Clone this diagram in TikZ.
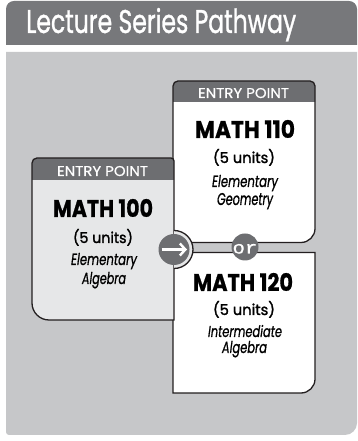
\documentclass[tikz,border=0pt]{standalone}
\usepackage{graphicx}
\usepackage{fontspec}
\setmainfont{Poppins}
\newfontfamily\titlefont{Poppins}[FakeBold=1.2]
\newfontfamily\medfont{Poppins}[FakeBold=1.6]
\newfontfamily\hdrfont{Poppins}[FakeBold=0.6]
\newfontfamily\itfont{Poppins}[FakeBold=1.0]
\newfontfamily\bfont{Poppins}[FakeBold=0.8]
\newfontfamily\orfont{Liberation Mono}[FakeBold=0.6]
\usetikzlibrary{arrows.meta}
\definecolor{titlegray}{HTML}{77787B}
\definecolor{panelgray}{HTML}{C6C7C9}
\definecolor{hdrgray}{HTML}{6D6E71}
\definecolor{boxlight}{HTML}{E6E7E8}
\definecolor{inkline}{HTML}{231F20}
\newcommand\fitbox[3]{\resizebox{#1pt}{#2pt}{#3}}
\tikzset{
  txt/.style={inner sep=0pt, anchor=base},
  outline/.style={draw=inkline, line width=1.3pt},
  hdrtxt/.style={txt, text=white},
  disc/.style={circle, fill=hdrgray, inner sep=0pt}
}
\begin{document}
\begin{tikzpicture}[x=1pt,y=1pt]
\useasboundingbox (0,0) rectangle (357,441);
% title bar
\fill[titlegray] (6,396) -- (6,432) arc[start angle=180,end angle=90,radius=8] -- (349,440) arc[start angle=90,end angle=0,radius=8] -- (357,396) -- cycle;
\node[txt, anchor=base west, text=white] (title) at (26,408) {\fitbox{270}{25}{\titlefont Lecture Series Pathway}};
% panel
\fill[panelgray] (6,389) -- (357,389) -- (357,18) arc[start angle=0,end angle=-90,radius=12] -- (9,6) arc[start angle=270,end angle=180,radius=3] -- cycle;
% box 110
\fill[white] (173,198.5) -- (173,355) arc[start angle=180,end angle=90,radius=5] -- (310,360) arc[start angle=90,end angle=0,radius=5] -- (315,212.5) arc[start angle=0,end angle=-90,radius=14] -- cycle;
\fill[hdrgray] (173,339) -- (173,355) arc[start angle=180,end angle=90,radius=5] -- (310,360) arc[start angle=90,end angle=0,radius=5] -- (315,339) -- cycle;
\draw[outline] (173,198.5) -- (173,355) arc[start angle=180,end angle=90,radius=5] -- (310,360) arc[start angle=90,end angle=0,radius=5] -- (315,212.5) arc[start angle=0,end angle=-90,radius=14] -- cycle;
% box 120
\fill[white] (173,188.5) -- (315,188.5) -- (315,62) arc[start angle=0,end angle=-90,radius=14] -- (173,48) -- cycle;
\draw[outline] (173,188.5) -- (315,188.5) -- (315,62) arc[start angle=0,end angle=-90,radius=14] -- (173,48) -- cycle;
% box 100
\fill[boxlight] (174,121) -- (174,280) arc[start angle=0,end angle=90,radius=3] -- (37,283) arc[start angle=90,end angle=180,radius=5] -- (32,138) arc[start angle=180,end angle=270,radius=17] -- cycle;
\fill[hdrgray] (32,261) -- (32,278) arc[start angle=180,end angle=90,radius=5] -- (171,283) arc[start angle=90,end angle=0,radius=3] -- (174,261) -- cycle;
\draw[outline] (174,121) -- (174,280) arc[start angle=0,end angle=90,radius=3] -- (37,283) arc[start angle=90,end angle=180,radius=5] -- (32,138) arc[start angle=180,end angle=270,radius=17] -- cycle;
% bulge around arrow
\fill[boxlight] (174,210.5) arc[start angle=90,end angle=-90,radius=19] -- cycle;
\draw[outline] (174,210.5) arc[start angle=90,end angle=-90,radius=19];
% arrow disc
\node[disc, minimum size=31pt] (arrowc) at (174,191.5) {};
\coordinate (arrS) at ([xshift=-12.5pt]arrowc.center);
\coordinate (arrE) at ([xshift=13pt]arrowc.center);
\draw[white, line width=2.6pt, -{Straight Barb[length=5.5pt,width=12pt,line width=2.4pt]}] (arrS) -- (arrE);
% or disc
\node[disc, minimum size=27pt] (ordisc) at (245,194) {};
\node[txt, text=white] (ortxt) at (245,187.5) {\fitbox{25}{9.5}{\orfont or}};
% box 110 texts
\node[hdrtxt] (e110) at (243.5,343) {\fitbox{91}{10}{\hdrfont ENTRY POINT}};
\node[txt] (m110) at (245,303) {\fitbox{100}{18}{\bfont\bfseries MATH 110}};
\node[txt] (u110) at (244,278) {\fitbox{62}{14}{\medfont (5 units)}};
\node[txt] (a110) at (245,254) {\fitbox{66}{12}{\itfont\itshape Elementary}};
\node[txt] (b110) at (245,236) {\fitbox{56}{12}{\itfont\itshape Geometry}};
% box 100 texts
\node[hdrtxt] (e100) at (102.5,265) {\fitbox{91}{10}{\hdrfont ENTRY POINT}};
\node[txt] (m100) at (103,224) {\fitbox{100}{18}{\bfont\bfseries MATH 100}};
\node[txt] (u100) at (103,198) {\fitbox{60}{14}{\medfont (5 units)}};
\node[txt] (a100) at (104,176) {\fitbox{66}{12}{\itfont\itshape Elementary}};
\node[txt] (b100) at (104,157) {\fitbox{44}{12}{\itfont\itshape Algebra}};
% box 120 texts
\node[txt] (m120) at (243,150) {\fitbox{100}{18}{\bfont\bfseries MATH 120}};
\node[txt] (u120) at (244,126) {\fitbox{62}{14}{\medfont (5 units)}};
\node[txt] (a120) at (245,104) {\fitbox{74}{12}{\itfont\itshape Intermediate}};
\node[txt] (b120) at (244.5,88) {\fitbox{45}{12}{\itfont\itshape Algebra}};
\end{tikzpicture}
\end{document}
